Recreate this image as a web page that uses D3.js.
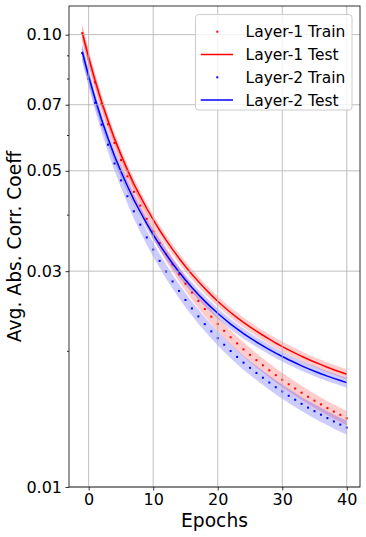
<!DOCTYPE html>
<html>
<head>
<meta charset="utf-8">
<script src="https://cdn.jsdelivr.net/npm/d3@7/dist/d3.min.js"></script>
<style>
  body { margin: 0; background: #fff; }
  svg { display: block; font-family: "DejaVu Sans", sans-serif; }
</style>
</head>
<body>
<svg width="366" height="537"></svg>
<script>
let epochs = [-1, 0, 1, 2, 3, 4, 5, 6, 7, 8, 9, 10, 11, 12, 13, 14, 15, 16, 17, 18, 19, 20,
              21, 22, 23, 24, 25, 26, 27, 28, 29, 30, 31, 32, 33, 34, 35, 36, 37, 38, 39, 40];

let layer1Train = [0.10074, 0.08845, 0.07842, 0.07020, 0.06339, 0.05760, 0.05280, 0.04861, 0.04493, 0.04189, 0.03915,
                   0.03675, 0.03462, 0.03274, 0.03105, 0.02953, 0.02815, 0.02690, 0.02578, 0.02474, 0.02380, 0.02293,
                   0.02215, 0.02143, 0.02077, 0.02015, 0.01959, 0.01907, 0.01858, 0.01811, 0.01767, 0.01726,
                   0.01687, 0.01651, 0.01616, 0.01583, 0.01552, 0.01523, 0.01494, 0.01468, 0.01444, 0.01419];
let layer1TrainStd = [0.0040, 0.0034, 0.0030, 0.0026, 0.0023, 0.0021, 0.0019, 0.0017, 0.0016, 0.0015, 0.0014,
                      0.0013, 0.0012, 0.0012, 0.0011, 0.0011, 0.0010, 0.00097, 0.00093, 0.00089, 0.00086, 0.00083,
                      0.00080, 0.00077, 0.00075, 0.00073, 0.00071, 0.00069, 0.00067, 0.00065, 0.00064, 0.00062,
                      0.00061, 0.00059, 0.00058, 0.00057, 0.00056, 0.00055, 0.00054, 0.00053, 0.00052, 0.00051];

let layer1Test = [0.1010, 0.0889, 0.0791, 0.0711, 0.0645, 0.0589, 0.0543, 0.0503, 0.0468, 0.0439, 0.0413,
                  0.0390, 0.03695, 0.03514, 0.03351, 0.03205, 0.03072, 0.02953, 0.02845, 0.02746, 0.02656, 0.02574,
                  0.02500, 0.02431, 0.02369, 0.02311, 0.02259, 0.02210, 0.02165, 0.02122, 0.02081, 0.02044,
                  0.02009, 0.01977, 0.01945, 0.01916, 0.01889, 0.01864, 0.01839, 0.01817, 0.01796, 0.01775];
let layer1TestStd = [0.0040, 0.0034, 0.0028, 0.0024, 0.0021, 0.0018, 0.0016, 0.0015, 0.0013, 0.0012, 0.0011,
                     0.0010, 0.00096, 0.00091, 0.00087, 0.00083, 0.00080, 0.00077, 0.00074, 0.00071, 0.00069, 0.00067,
                     0.00065, 0.00063, 0.00062, 0.00060, 0.00056, 0.00055, 0.00054, 0.00053, 0.00052, 0.00051,
                     0.00050, 0.00049, 0.00049, 0.00048, 0.00047, 0.00047, 0.00046, 0.00045, 0.00045, 0.00044];

let layer2Train = [0.09099, 0.07983, 0.07070, 0.06325, 0.05711, 0.05190, 0.04762, 0.04393, 0.04070, 0.03802, 0.03562,
                   0.03349, 0.03162, 0.02996, 0.02847, 0.02713, 0.02591, 0.02482, 0.02383, 0.02291, 0.02208, 0.02133,
                   0.02063, 0.01998, 0.01939, 0.01883, 0.01834, 0.01787, 0.01744, 0.01702, 0.01662, 0.01626,
                   0.01591, 0.01559, 0.01527, 0.01498, 0.01471, 0.01445, 0.01420, 0.01396, 0.01374, 0.01353];
let layer2TrainStd = [0.0036, 0.0031, 0.0027, 0.0023, 0.0021, 0.0019, 0.0017, 0.0016, 0.0015, 0.0014, 0.0013,
                      0.0012, 0.0011, 0.0011, 0.0010, 0.00098, 0.00093, 0.00089, 0.00086, 0.00082, 0.00079, 0.00077,
                      0.00074, 0.00072, 0.00070, 0.00068, 0.00066, 0.00064, 0.00063, 0.00061, 0.00060, 0.00059,
                      0.00057, 0.00056, 0.00055, 0.00054, 0.00053, 0.00052, 0.00051, 0.00050, 0.00049, 0.00049];

let layer2Test = [0.09169, 0.08085, 0.07208, 0.06491, 0.05900, 0.05398, 0.04985, 0.04627, 0.04313, 0.04054, 0.03821,
                  0.03615, 0.03430, 0.03267, 0.03120, 0.02988, 0.02869, 0.02762, 0.02665, 0.02576, 0.02495, 0.02422,
                  0.02355, 0.02292, 0.02236, 0.02183, 0.02136, 0.02092, 0.02052, 0.02013, 0.01976, 0.01943,
                  0.01911, 0.01882, 0.01853, 0.01827, 0.01803, 0.01780, 0.01758, 0.01738, 0.01719, 0.01701];
let layer2TestStd = [0.0037, 0.0031, 0.0026, 0.0022, 0.0019, 0.0017, 0.0015, 0.0013, 0.0012, 0.0011, 0.0010,
                     0.00094, 0.00089, 0.00085, 0.00081, 0.00078, 0.00075, 0.00072, 0.00069, 0.00067, 0.00065, 0.00063,
                     0.00061, 0.00060, 0.00058, 0.00057, 0.00053, 0.00052, 0.00051, 0.00050, 0.00049, 0.00049,
                     0.00048, 0.00047, 0.00046, 0.00046, 0.00045, 0.00045, 0.00044, 0.00043, 0.00043, 0.00043];

let xTicks      = [0, 10, 20, 30, 40];
let yTicks      = [0.01, 0.03, 0.05, 0.07, 0.10];
let yMinorTicks = [0.02, 0.04, 0.06, 0.08, 0.09];

let series = [
    {name: "Layer-1 Train", mean: layer1Train, std: layer1TrainStd, color: "#ff0000", style: "dot"},
    {name: "Layer-1 Test",  mean: layer1Test,  std: layer1TestStd,  color: "#ff0000", style: "line"},
    {name: "Layer-2 Train", mean: layer2Train, std: layer2TrainStd, color: "#0000ff", style: "dot"},
    {name: "Layer-2 Test",  mean: layer2Test,  std: layer2TestStd,  color: "#0000ff", style: "line"}
];

let LEFT = 69, RIGHT = 360, TOP = 6, BOTTOM = 487;

let svg = d3.select("svg");

let x = d3.scaleLinear().domain([-3.05, 42.05]).range([LEFT, RIGHT]);
let y = d3.scaleLog().domain([0.01, 0.1157]).range([BOTTOM, TOP]);

svg.append("defs").append("clipPath").attr("id", "plot")
   .append("rect")
   .attr("x", LEFT).attr("y", TOP)
   .attr("width", RIGHT - LEFT).attr("height", BOTTOM - TOP);

let plot = svg.append("g").attr("clip-path", "url(#plot)");

// bands first (they sit under the grid, like matplotlib)
let band = d3.area()
             .x(d => x(d.e))
             .y0(d => y(d.m - d.s))
             .y1(d => y(d.m + d.s));

series.forEach(function (s) {
    let pts = epochs.map((e, i) => ({e: e, m: s.mean[i], s: s.std[i]}));
    plot.append("path")
        .attr("d", band(pts))
        .attr("fill", s.color)
        .attr("fill-opacity", 0.2)
        .attr("stroke", "none");
});

// grid
let grid = svg.append("g");
grid.selectAll(".vg").data(xTicks).enter().append("line")
    .attr("x1", d => x(d)).attr("x2", d => x(d))
    .attr("y1", TOP).attr("y2", BOTTOM)
    .attr("stroke", "#b0b0b0").attr("stroke-width", 0.8);
grid.selectAll(".hg").data(yTicks).enter().append("line")
    .attr("x1", LEFT).attr("x2", RIGHT)
    .attr("y1", d => y(d)).attr("y2", d => y(d))
    .attr("stroke", "#b0b0b0").attr("stroke-width", 0.8);

// lines and dots
let line = d3.line().x(d => x(d.e)).y(d => y(d.m));

series.forEach(function (s) {
    let pts = epochs.map((e, i) => ({e: e, m: s.mean[i]}));
    if (s.style === "line") {
        plot.append("path")
            .attr("d", line(pts))
            .attr("fill", "none")
            .attr("stroke", s.color)
            .attr("stroke-width", 1.5);
    } else {
        plot.selectAll(null).data(pts).enter().append("rect")
            .attr("x", d => x(d.e) - 1)
            .attr("y", d => y(d.m) - 1)
            .attr("width", 2).attr("height", 2)
            .attr("fill", s.color);
    }
});

// axes
let xAxis = svg.append("g")
               .attr("transform", "translate(0," + BOTTOM + ")")
               .call(d3.axisBottom(x).tickValues(xTicks).tickSize(3.5).tickPadding(3.5));
let yAxis = svg.append("g")
               .attr("transform", "translate(" + LEFT + ",0)")
               .call(d3.axisLeft(y).tickValues(yTicks).tickFormat(d3.format(".2f")).tickSize(3.5).tickPadding(3.5));
let yMinor = svg.append("g")
                .attr("transform", "translate(" + LEFT + ",0)")
                .call(d3.axisLeft(y).tickValues(yMinorTicks).tickFormat("").tickSize(2));

[xAxis, yAxis, yMinor].forEach(function (a) {
    a.select(".domain").remove();
    a.selectAll(".tick line").attr("stroke", "#000").attr("stroke-width", 0.8);
    a.selectAll("text").attr("font-size", "16px").attr("fill", "#000")
     .attr("font-family", "DejaVu Sans, sans-serif");
});

// frame
svg.append("rect")
   .attr("x", LEFT).attr("y", TOP)
   .attr("width", RIGHT - LEFT).attr("height", BOTTOM - TOP)
   .attr("fill", "none").attr("stroke", "#000").attr("stroke-width", 0.8);

// labels
svg.append("text")
   .attr("x", (LEFT + RIGHT) / 2).attr("y", 527)
   .attr("text-anchor", "middle")
   .attr("font-size", "18.7px")
   .text("Epochs");

svg.append("text")
   .attr("transform", "translate(21," + ((TOP + BOTTOM) / 2) + ") rotate(-90)")
   .attr("text-anchor", "middle")
   .attr("font-size", "18.7px")
   .text("Avg. Abs. Corr. Coeff");

// legend
let legend = svg.append("g");
legend.append("rect")
      .attr("x", 195.5).attr("y", 14.5)
      .attr("width", 156.5).attr("height", 95.5)
      .attr("rx", 3)
      .attr("fill", "#fff").attr("fill-opacity", 0.8)
      .attr("stroke", "#cccccc").attr("stroke-width", 1);

let rows = legend.selectAll(".row").data(series).enter().append("g")
                 .attr("transform", (d, i) => "translate(0," + (31.7 + i * 22.8) + ")");

rows.each(function (d) {
    let g = d3.select(this);
    if (d.style === "line") {
        g.append("line")
         .attr("x1", 200.7).attr("x2", 233)
         .attr("y1", 0).attr("y2", 0)
         .attr("stroke", d.color).attr("stroke-width", 1.5);
    } else {
        g.append("rect")
         .attr("x", 216.3).attr("y", -1)
         .attr("width", 2).attr("height", 2)
         .attr("fill", d.color);
    }
    g.append("text")
     .attr("x", 245.5).attr("y", 0)
     .attr("dy", "0.35em")
     .attr("font-size", "15.5px")
     .text(d.name);
});
</script>
</body>
</html>
